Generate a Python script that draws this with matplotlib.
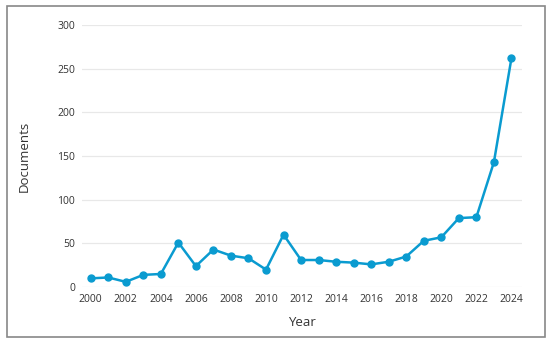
import matplotlib.pyplot as plt
from matplotlib.patches import Rectangle

years = list(range(2000, 2025))
documents = [10, 11, 6, 14, 15, 51, 24, 43, 36, 33, 20, 60, 31, 31, 29, 28, 26, 29, 35, 53, 57, 79, 80, 143, 262]
xticks = list(range(2000, 2025, 2))
yticks = [0, 50, 100, 150, 200, 250, 300]

plt.rcParams['font.family'] = ['Open Sans', 'DejaVu Sans']

fig = plt.figure(figsize=(5.5, 3.43), dpi=100)
ax = fig.add_axes([0.149, 0.163, 0.8, 0.764])

ax.plot(years, documents, color='#0a9bd0', lw=1.8, marker='o', ms=5, clip_on=False, zorder=3)

ax.set_xlim(1999.5, 2024.6)
ax.set_ylim(0, 300)
ax.set_xticks(xticks)
ax.set_yticks(yticks)
ax.tick_params(length=0, labelsize=7.5, labelcolor='#333333', pad=5)
ax.grid(axis='y', color='#e8e8e8', lw=0.9)
ax.set_axisbelow(True)
for s in ax.spines.values():
    s.set_visible(False)

ax.set_xlabel('Year', fontsize=9.5, color='#333333', labelpad=8)
ax.set_ylabel('Documents', fontsize=9.5, color='#333333', labelpad=19)

# outer frame
fig.patches.append(Rectangle((0.013, 0.017), 0.978, 0.966, transform=fig.transFigure,
                             fill=False, edgecolor='#888888', lw=1.2))

fig.savefig('out.png', dpi=100)
